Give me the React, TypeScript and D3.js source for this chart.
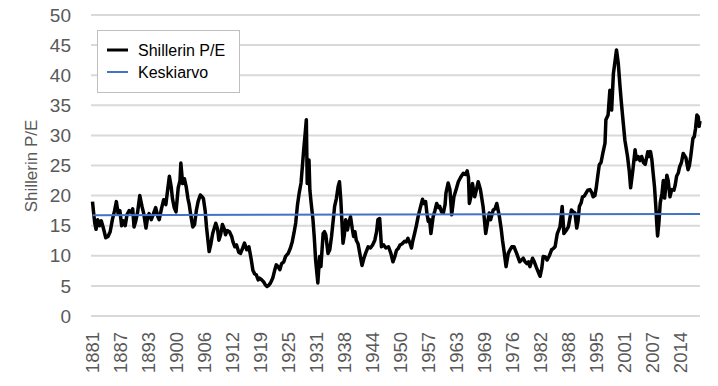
import React, { useEffect, useRef } from 'react';
import * as d3 from 'd3';

// Shiller P/E, [year, value], split by era
const pe1881to1920: [number, number][] = [
  [1881.0, 19.0], [1881.2, 17.5], [1881.5, 15.5], [1881.8, 14.4], [1882.2, 16.0], [1882.6, 15.0],
  [1883.0, 15.8], [1883.5, 14.5], [1884.0, 13.0], [1884.5, 13.2], [1885.0, 14.0], [1885.5, 16.0],
  [1886.0, 17.5], [1886.4, 19.0], [1886.8, 17.0], [1887.2, 17.5], [1887.6, 15.0], [1888.0, 15.8],
  [1888.4, 15.0], [1888.8, 16.8], [1889.3, 17.5], [1889.8, 17.2], [1890.1, 17.8], [1890.4, 14.8],
  [1890.8, 15.8], [1891.2, 17.2], [1891.7, 20.0], [1892.2, 18.2], [1892.6, 17.0], [1893.1, 14.6],
  [1893.5, 16.5], [1893.8, 17.0], [1894.3, 16.0], [1894.7, 16.8], [1895.3, 18.0], [1895.8, 16.5],
  [1896.1, 16.0], [1896.6, 17.8], [1897.1, 19.3], [1897.6, 18.5], [1898.0, 20.9], [1898.4, 23.2],
  [1898.8, 21.5], [1899.1, 19.5], [1899.5, 18.0], [1899.9, 17.3], [1900.4, 21.3], [1900.8, 22.5],
  [1901.0, 25.4], [1901.4, 22.0], [1901.8, 22.8], [1902.2, 21.5], [1902.6, 19.5], [1902.9, 18.5],
  [1903.3, 16.5], [1903.7, 14.8], [1904.1, 15.2], [1904.5, 17.5], [1904.9, 19.0], [1905.4, 20.1],
  [1905.8, 19.8], [1906.1, 19.5], [1906.5, 17.5], [1906.8, 14.8], [1907.4, 10.7], [1907.8, 12.0],
  [1908.2, 13.7], [1908.9, 15.4], [1909.3, 14.5], [1909.6, 12.6], [1910.0, 13.5], [1910.4, 15.2],
  [1910.8, 14.5], [1911.1, 13.5], [1911.5, 14.2], [1912.0, 14.0], [1912.5, 13.2], [1912.8, 12.3],
  [1913.2, 11.5], [1913.6, 11.8], [1914.1, 10.6], [1914.5, 10.4], [1915.0, 11.3], [1915.4, 12.1],
  [1915.9, 11.0], [1916.4, 11.5], [1916.9, 9.5], [1917.3, 7.6], [1917.7, 7.0], [1918.1, 6.8],
  [1918.5, 6.0], [1918.8, 6.3], [1919.3, 6.0], [1919.7, 5.7], [1920.1, 5.2], [1920.5, 4.9], [1920.9, 5.1],
];

const pe1921to1960: [number, number][] = [
  [1921.3, 5.5], [1921.8, 6.3], [1922.2, 7.5], [1922.6, 8.5], [1923.0, 8.2], [1923.4, 7.7],
  [1923.8, 8.7], [1924.3, 9.0], [1924.7, 9.9], [1925.3, 10.4], [1925.8, 11.3], [1926.2, 12.3],
  [1926.6, 13.8], [1927.0, 15.5], [1927.4, 18.5], [1927.8, 20.5], [1928.2, 22.1], [1928.5, 24.8],
  [1928.8, 27.6], [1929.1, 30.0], [1929.4, 32.6], [1929.6, 22.0], [1930.0, 25.9], [1930.2, 20.9],
  [1930.5, 18.7], [1930.9, 16.0], [1931.2, 13.0], [1931.5, 9.3], [1931.8, 7.0], [1932.0, 5.5],
  [1932.4, 9.9], [1932.7, 8.2], [1933.2, 13.7], [1933.5, 14.0], [1933.8, 13.5], [1934.3, 10.4],
  [1934.7, 11.0], [1935.1, 13.2], [1935.5, 16.0], [1935.8, 18.2], [1936.2, 19.5], [1936.6, 21.5],
  [1936.9, 22.3], [1937.2, 19.3], [1937.5, 15.0], [1937.7, 12.1], [1938.0, 13.5], [1938.3, 16.0],
  [1938.7, 14.3], [1939.0, 15.5], [1939.4, 16.5], [1939.8, 14.5], [1940.1, 13.2], [1940.4, 14.0],
  [1940.7, 12.6], [1941.1, 12.0], [1941.5, 10.4], [1942.0, 8.4], [1942.4, 9.5], [1942.8, 10.4],
  [1943.4, 11.5], [1943.9, 11.3], [1944.4, 11.8], [1944.9, 12.6], [1945.3, 14.0], [1945.6, 16.0],
  [1946.0, 16.2], [1946.4, 11.5], [1946.9, 11.8], [1947.4, 11.3], [1948.0, 11.5], [1948.5, 10.5],
  [1949.0, 9.0], [1949.4, 9.8], [1949.8, 10.9], [1950.2, 11.2], [1950.6, 11.8], [1951.1, 12.0],
  [1951.6, 12.4], [1952.0, 12.3], [1952.4, 12.9], [1952.8, 12.2], [1953.2, 11.3], [1953.5, 12.5],
  [1953.9, 13.7], [1954.3, 15.0], [1954.7, 16.5], [1955.2, 18.0], [1955.7, 19.4], [1956.0, 18.7],
  [1956.4, 19.0], [1956.7, 17.0], [1957.0, 15.7], [1957.3, 16.0], [1957.6, 13.7], [1958.1, 16.5],
  [1958.5, 17.5], [1958.9, 18.7], [1959.3, 18.0], [1959.6, 18.2], [1960.0, 17.3], [1960.4, 17.1],
];

const pe1961to2000: [number, number][] = [
  [1960.8, 18.5], [1961.0, 20.4], [1961.5, 22.1], [1961.9, 21.0], [1962.3, 16.8], [1962.8, 19.8],
  [1963.3, 21.0], [1963.8, 22.3], [1964.3, 23.0], [1964.9, 23.7], [1965.4, 23.5], [1965.8, 24.1],
  [1966.1, 23.0], [1966.3, 18.7], [1966.7, 20.0], [1967.0, 22.0], [1967.5, 19.8], [1967.9, 21.0],
  [1968.3, 22.3], [1968.8, 21.0], [1969.4, 18.2], [1969.7, 16.0], [1970.0, 13.7], [1970.4, 15.5],
  [1970.8, 17.1], [1971.1, 16.0], [1971.7, 17.6], [1972.1, 17.8], [1972.5, 18.7], [1973.1, 16.5],
  [1973.5, 14.5], [1973.8, 12.6], [1974.2, 10.5], [1974.6, 8.2], [1975.1, 10.4], [1975.5, 11.0],
  [1975.9, 11.5], [1976.4, 11.5], [1977.0, 10.4], [1977.7, 9.0], [1978.1, 9.3], [1978.5, 9.6],
  [1978.9, 9.0], [1979.3, 8.7], [1979.7, 9.0], [1980.0, 8.2], [1980.6, 9.6], [1981.0, 9.0],
  [1981.4, 8.2], [1981.9, 7.3], [1982.3, 6.6], [1982.7, 8.0], [1983.0, 9.9], [1983.5, 9.8],
  [1983.9, 9.3], [1984.4, 10.0], [1984.9, 11.0], [1985.3, 11.2], [1985.7, 11.5], [1986.2, 13.7],
  [1986.8, 14.8], [1987.0, 16.0], [1987.3, 18.2], [1987.7, 13.7], [1988.2, 14.2], [1988.7, 14.8],
  [1989.0, 16.0], [1989.4, 17.6], [1989.8, 17.3], [1990.2, 17.1], [1990.6, 14.6], [1990.9, 15.8],
  [1991.2, 18.2], [1991.6, 18.8], [1991.9, 19.8], [1992.3, 19.9], [1992.7, 20.4], [1993.1, 20.9],
  [1993.6, 21.0], [1994.0, 20.5], [1994.3, 19.8], [1994.7, 20.0], [1995.0, 21.2], [1995.4, 23.5],
  [1995.7, 25.1], [1996.1, 25.5], [1996.5, 27.0], [1997.0, 28.7], [1997.2, 32.6], [1997.7, 33.4],
  [1998.1, 37.5], [1998.5, 34.2], [1998.9, 40.3], [1999.3, 42.5], [1999.6, 44.2], [2000.0, 42.0],
];

const pe2001to2018: [number, number][] = [
  [2000.4, 38.1], [2000.7, 35.5], [2001.0, 33.1], [2001.5, 29.2], [2002.1, 26.5], [2002.5, 24.0],
  [2002.8, 21.3], [2003.3, 24.2], [2003.8, 27.6], [2004.1, 26.0], [2004.5, 26.5], [2004.9, 25.8],
  [2005.3, 26.5], [2005.7, 25.5], [2006.1, 25.2], [2006.7, 27.3], [2007.0, 26.5], [2007.3, 27.3],
  [2007.6, 26.0], [2007.9, 23.7], [2008.2, 21.5], [2008.5, 18.2], [2008.7, 15.5], [2008.9, 13.3],
  [2009.2, 15.5], [2009.5, 18.8], [2009.9, 20.4], [2010.2, 22.5], [2010.5, 19.6], [2011.0, 23.4],
  [2011.3, 22.5], [2011.7, 19.8], [2012.1, 21.0], [2012.6, 20.9], [2012.9, 21.8], [2013.2, 23.2],
  [2013.6, 23.8], [2013.9, 24.8], [2014.3, 25.5], [2014.7, 27.0], [2015.3, 26.3], [2015.8, 24.3],
  [2016.1, 25.0], [2016.4, 26.5], [2016.9, 29.5], [2017.2, 29.8], [2017.5, 31.2], [2017.8, 33.4],
  [2018.1, 33.1], [2018.3, 31.5], [2018.5, 32.4],
];

// average line, first and last month
const meanPE: [number, number][] = [[1881.0, 16.75], [2018.5, 16.95]];

const yTicks = [0, 5, 10, 15, 20, 25, 30, 35, 40, 45, 50];
const xTickLabels = ['1881', '1887', '1893', '1900', '1906', '1912', '1919', '1925', '1931', '1938', '1944',
  '1950', '1957', '1963', '1969', '1976', '1982', '1988', '1995', '2001', '2007', '2014'];
const seriesNames = ['Shillerin P/E', 'Keskiarvo'];
const seriesColors = ['#000000', '#4472c4'];

const W = 718;
const H = 386;
const FONT = '"Liberation Sans", Arial, sans-serif';

export default function App() {
  const ref = useRef<SVGSVGElement>(null);

  useEffect(() => {
    document.body.style.margin = '0';
    const svg = d3.select(ref.current);
    svg.selectAll('*').remove();

    const data = [...pe1881to1920, ...pe1921to1960, ...pe1961to2000, ...pe2001to2018];

    const x = d3.scaleLinear().domain([1881, 2018.5]).range([92.5, 700]);
    const y = d3.scaleLinear().domain([0, 50]).range([316, 15]);

    // gridlines
    svg.append('g')
      .selectAll('line')
      .data(yTicks)
      .enter()
      .append('line')
      .attr('x1', 91)
      .attr('x2', 700)
      .attr('y1', d => y(d))
      .attr('y2', d => y(d))
      .attr('stroke', '#d9d9d9')
      .attr('stroke-width', 2);

    // y tick labels
    svg.append('g')
      .selectAll('text')
      .data(yTicks)
      .enter()
      .append('text')
      .attr('x', 71)
      .attr('y', d => y(d))
      .attr('dy', '0.35em')
      .attr('text-anchor', 'end')
      .attr('font-family', FONT)
      .attr('font-size', 19)
      .attr('fill', '#595959')
      .text(d => d);

    // x tick labels, one every 76 months
    svg.append('g')
      .selectAll('text')
      .data(xTickLabels)
      .enter()
      .append('text')
      .attr('transform', (d, i) => `translate(${x(1881 + (i * 76) / 12)},332)rotate(-90)`)
      .attr('dy', '0.35em')
      .attr('text-anchor', 'end')
      .attr('font-family', FONT)
      .attr('font-size', 18.5)
      .attr('fill', '#595959')
      .text(d => d);

    // y axis title
    svg.append('text')
      .attr('transform', 'translate(31,166)rotate(-90)')
      .attr('dy', '0.35em')
      .attr('text-anchor', 'middle')
      .attr('font-family', FONT)
      .attr('font-size', 17)
      .attr('fill', '#595959')
      .text('Shillerin P/E');

    const line = d3.line<[number, number]>()
      .x(d => x(d[0]))
      .y(d => y(d[1]));

    svg.append('path')
      .datum(data)
      .attr('d', line)
      .attr('fill', 'none')
      .attr('stroke', seriesColors[0])
      .attr('stroke-width', 3.5)
      .attr('stroke-linejoin', 'round');

    svg.append('path')
      .datum(meanPE)
      .attr('d', line)
      .attr('fill', 'none')
      .attr('stroke', seriesColors[1])
      .attr('stroke-width', 2);

    // legend
    const legend = svg.append('g');
    legend.append('rect')
      .attr('x', 97.5)
      .attr('y', 30.5)
      .attr('width', 142)
      .attr('height', 62)
      .attr('fill', '#fff')
      .attr('stroke', '#bfbfbf');

    const item = legend.selectAll('g.item')
      .data(seriesNames)
      .enter()
      .append('g')
      .attr('class', 'item')
      .attr('transform', (d, i) => `translate(0,${50 + i * 22})`);

    item.append('line')
      .attr('x1', 107)
      .attr('x2', 128)
      .attr('stroke', (d, i) => seriesColors[i])
      .attr('stroke-width', (d, i) => (i === 0 ? 3 : 2));

    item.append('text')
      .attr('x', 138)
      .attr('dy', '0.35em')
      .attr('font-family', FONT)
      .attr('font-size', 16)
      .attr('fill', '#000')
      .text(d => d);
  }, []);

  return (
    <svg ref={ref} width={W} height={H} style={{ position: 'absolute', left: 0, top: 0, background: '#fff' }} />
  );
}
